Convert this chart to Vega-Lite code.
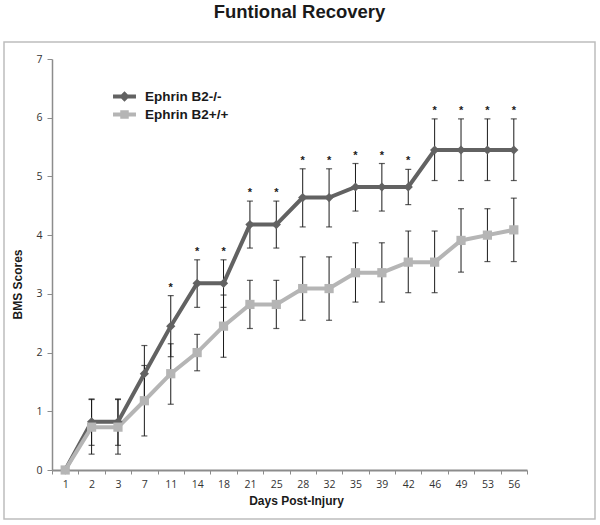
{
  "$schema": "https://vega.github.io/schema/vega-lite/v6.json",
  "width": 591,
  "height": 477,
  "autosize": {"type": "none"},
  "padding": {"left": 4, "top": 42, "right": 5, "bottom": 6},
  "background": "white",
  "title": {
    "text": "Funtional Recovery",
    "font": "Liberation Sans",
    "fontSize": 18.5,
    "fontWeight": "bold",
    "color": "#1a1a1a",
    "anchor": "middle",
    "frame": "group",
    "baseline": "alphabetic",
    "offset": 6
  },
  "config": {
    "view": {"stroke": "#bdbdbd", "strokeWidth": 1.5},
    "axis": {"grid": false}
  },
  "data": {
    "values": [
      {"day": 1, "group": "Ephrin B2-/-", "score": 0, "lo": 0, "hi": 0, "star": false},
      {"day": 2, "group": "Ephrin B2-/-", "score": 0.82, "lo": 0.42, "hi": 1.21, "star": false},
      {"day": 3, "group": "Ephrin B2-/-", "score": 0.82, "lo": 0.42, "hi": 1.21, "star": false},
      {"day": 7, "group": "Ephrin B2-/-", "score": 1.64, "lo": 1.16, "hi": 2.12, "star": false},
      {"day": 11, "group": "Ephrin B2-/-", "score": 2.45, "lo": 1.93, "hi": 2.97, "star": true},
      {"day": 14, "group": "Ephrin B2-/-", "score": 3.18, "lo": 2.77, "hi": 3.58, "star": true},
      {"day": 18, "group": "Ephrin B2-/-", "score": 3.18, "lo": 2.77, "hi": 3.58, "star": true},
      {"day": 21, "group": "Ephrin B2-/-", "score": 4.18, "lo": 3.78, "hi": 4.58, "star": true},
      {"day": 25, "group": "Ephrin B2-/-", "score": 4.18, "lo": 3.78, "hi": 4.58, "star": true},
      {"day": 28, "group": "Ephrin B2-/-", "score": 4.64, "lo": 4.14, "hi": 5.13, "star": true},
      {"day": 32, "group": "Ephrin B2-/-", "score": 4.64, "lo": 4.14, "hi": 5.13, "star": true},
      {"day": 35, "group": "Ephrin B2-/-", "score": 4.82, "lo": 4.41, "hi": 5.22, "star": true},
      {"day": 39, "group": "Ephrin B2-/-", "score": 4.82, "lo": 4.41, "hi": 5.22, "star": true},
      {"day": 42, "group": "Ephrin B2-/-", "score": 4.82, "lo": 4.52, "hi": 5.12, "star": true},
      {"day": 46, "group": "Ephrin B2-/-", "score": 5.45, "lo": 4.93, "hi": 5.98, "star": true},
      {"day": 49, "group": "Ephrin B2-/-", "score": 5.45, "lo": 4.93, "hi": 5.98, "star": true},
      {"day": 53, "group": "Ephrin B2-/-", "score": 5.45, "lo": 4.93, "hi": 5.98, "star": true},
      {"day": 56, "group": "Ephrin B2-/-", "score": 5.45, "lo": 4.93, "hi": 5.98, "star": true},
      {"day": 1, "group": "Ephrin B2+/+", "score": 0, "lo": 0, "hi": 0, "star": false},
      {"day": 2, "group": "Ephrin B2+/+", "score": 0.73, "lo": 0.27, "hi": 1.2, "star": false},
      {"day": 3, "group": "Ephrin B2+/+", "score": 0.73, "lo": 0.27, "hi": 1.2, "star": false},
      {"day": 7, "group": "Ephrin B2+/+", "score": 1.18, "lo": 0.58, "hi": 1.78, "star": false},
      {"day": 11, "group": "Ephrin B2+/+", "score": 1.64, "lo": 1.12, "hi": 2.15, "star": false},
      {"day": 14, "group": "Ephrin B2+/+", "score": 2.0, "lo": 1.69, "hi": 2.31, "star": false},
      {"day": 18, "group": "Ephrin B2+/+", "score": 2.45, "lo": 1.92, "hi": 2.98, "star": false},
      {"day": 21, "group": "Ephrin B2+/+", "score": 2.82, "lo": 2.41, "hi": 3.23, "star": false},
      {"day": 25, "group": "Ephrin B2+/+", "score": 2.82, "lo": 2.41, "hi": 3.23, "star": false},
      {"day": 28, "group": "Ephrin B2+/+", "score": 3.09, "lo": 2.55, "hi": 3.63, "star": false},
      {"day": 32, "group": "Ephrin B2+/+", "score": 3.09, "lo": 2.55, "hi": 3.63, "star": false},
      {"day": 35, "group": "Ephrin B2+/+", "score": 3.36, "lo": 2.86, "hi": 3.87, "star": false},
      {"day": 39, "group": "Ephrin B2+/+", "score": 3.36, "lo": 2.86, "hi": 3.87, "star": false},
      {"day": 42, "group": "Ephrin B2+/+", "score": 3.54, "lo": 3.02, "hi": 4.07, "star": false},
      {"day": 46, "group": "Ephrin B2+/+", "score": 3.54, "lo": 3.02, "hi": 4.07, "star": false},
      {"day": 49, "group": "Ephrin B2+/+", "score": 3.91, "lo": 3.37, "hi": 4.45, "star": false},
      {"day": 53, "group": "Ephrin B2+/+", "score": 4.0, "lo": 3.55, "hi": 4.45, "star": false},
      {"day": 56, "group": "Ephrin B2+/+", "score": 4.09, "lo": 3.55, "hi": 4.63, "star": false}
    ]
  },
  "encoding": {
    "x": {
      "field": "day",
      "type": "ordinal",
      "scale": {"type": "band", "paddingInner": 0, "paddingOuter": 0, "range": [48, 523]},
      "axis": {
        "title": "Days Post-Injury",
        "titleFont": "Liberation Sans",
        "titleFontSize": 12,
        "titleFontWeight": "bold",
        "titleColor": "#1a1a1a",
        "titleX": 292,
        "titlePadding": 6,
        "labelFont": "Open Sans",
        "labelFontSize": 10.5,
        "labelColor": "#333333",
        "labelAngle": 0,
        "labelPadding": 5,
        "tickBand": "extent",
        "tickSize": 4,
        "tickColor": "#8c8c8c",
        "tickWidth": 1,
        "domainColor": "#8c8c8c",
        "domainWidth": 1.8,
        "offset": -49
      }
    },
    "y": {
      "field": "score",
      "type": "quantitative",
      "scale": {"domain": [0, 7], "nice": false, "range": [428, 17]},
      "axis": {
        "title": "BMS Scores",
        "titleFont": "Liberation Sans",
        "titleFontSize": 12,
        "titleFontWeight": "bold",
        "titleColor": "#1a1a1a",
        "titleAngle": -90,
        "titleX": -35,
        "titleY": 242,
        "titleAlign": "center",
        "titleBaseline": "middle",
        "values": [0, 1, 2, 3, 4, 5, 6, 7],
        "format": "d",
        "labelFont": "Open Sans",
        "labelFontSize": 10.5,
        "labelColor": "#333333",
        "labelPadding": 5,
        "tickSize": 5,
        "tickColor": "#8c8c8c",
        "tickWidth": 1,
        "domainColor": "#8c8c8c",
        "domainWidth": 1.5,
        "offset": -48
      }
    }
  },
  "layer": [
    {
      "mark": {"type": "point", "filled": true, "size": 0},
      "encoding": {
        "color": {
          "field": "group",
          "type": "nominal",
          "scale": {"domain": ["Ephrin B2-/-", "Ephrin B2+/+"], "range": ["#626262", "#b5b5b5"]},
          "legend": {
            "title": null,
            "orient": "none",
            "legendX": 112,
            "legendY": 46,
            "padding": 0,
            "rowPadding": 3,
            "symbolSize": 289,
            "symbolStrokeWidth": 0,
            "symbolOpacity": 1,
            "labelFont": "Liberation Sans",
            "labelFontSize": 13.5,
            "labelFontWeight": "bold",
            "labelColor": "#1a1a1a",
            "labelOffset": 12
          }
        },
        "shape": {
          "field": "group",
          "type": "nominal",
          "scale": {
            "domain": ["Ephrin B2-/-", "Ephrin B2+/+"],
            "range": [
              "M-1.35,-0.24H1.35V0.24H-1.35Z M0,-0.62L0.62,0L0,0.62L-0.62,0Z",
              "M-1.35,-0.24H1.35V0.24H-1.35Z M-0.5,-0.5H0.5V0.5H-0.5Z"
            ]
          },
          "legend": {
            "title": null,
            "orient": "none",
            "legendX": 112,
            "legendY": 46,
            "padding": 0,
            "rowPadding": 3,
            "symbolSize": 289,
            "symbolStrokeWidth": 0,
            "symbolOpacity": 1,
            "labelFont": "Liberation Sans",
            "labelFontSize": 13.5,
            "labelFontWeight": "bold",
            "labelColor": "#1a1a1a",
            "labelOffset": 12
          }
        }
      }
    },
    {
      "transform": [{"filter": "datum.hi > datum.lo"}],
      "mark": {"type": "rule", "color": "#1a1a1a", "strokeWidth": 1},
      "encoding": {
        "y": {"field": "lo", "type": "quantitative"},
        "y2": {"field": "hi"}
      }
    },
    {
      "transform": [{"filter": "datum.hi > datum.lo"}],
      "mark": {"type": "tick", "color": "#1a1a1a", "size": 6, "thickness": 1.2, "orient": "horizontal"},
      "encoding": {"y": {"field": "lo", "type": "quantitative"}}
    },
    {
      "transform": [{"filter": "datum.hi > datum.lo"}],
      "mark": {"type": "tick", "color": "#1a1a1a", "size": 6, "thickness": 1.2, "orient": "horizontal"},
      "encoding": {"y": {"field": "hi", "type": "quantitative"}}
    },
    {
      "mark": {"type": "line", "strokeWidth": 4},
      "encoding": {
        "color": {"field": "group", "type": "nominal"}
      }
    },
    {
      "transform": [{"filter": "datum.group === 'Ephrin B2-/-'"}],
      "mark": {"type": "point", "filled": true, "opacity": 1, "size": 85, "shape": "diamond"},
      "encoding": {
        "color": {"field": "group", "type": "nominal"}
      }
    },
    {
      "transform": [{"filter": "datum.group === 'Ephrin B2+/+'"}],
      "mark": {"type": "point", "filled": true, "opacity": 1, "size": 85, "shape": "square"},
      "encoding": {
        "color": {"field": "group", "type": "nominal"}
      }
    },
    {
      "transform": [{"filter": "datum.star"}],
      "mark": {"type": "text", "text": "*", "font": "Liberation Sans", "fontSize": 11, "fontWeight": "bold", "color": "#1a1a1a", "baseline": "alphabetic", "dy": -5},
      "encoding": {"y": {"field": "hi", "type": "quantitative"}}
    }
  ]
}
